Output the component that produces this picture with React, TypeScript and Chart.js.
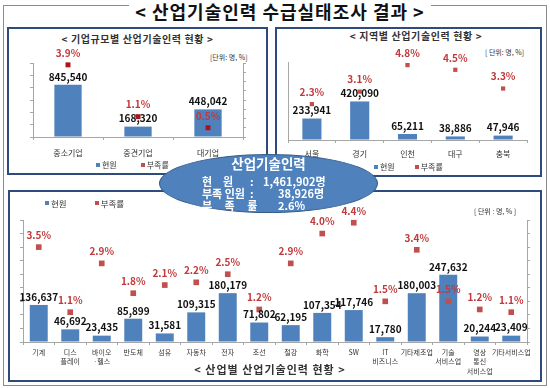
import React, { useEffect, useRef } from 'react';
import { Chart, registerables } from 'chart.js';

Chart.register(...registerables);

const FONT = "'Noto Sans CJK KR', 'Noto Sans', sans-serif";
Chart.defaults.font.family = FONT;

// ---- data ----
const sizeCats = ['중소기업', '중견기업', '대기업'];
const sizeStaff = [845540, 168320, 448042];
const sizeShort = [3.9, 1.1, 0.5];

const regionCats = ['서울', '경기', '인천', '대구', '충북'];
const regionStaff = [233941, 420090, 65211, 38886, 47946];
const regionShort = [2.3, 3.1, 4.8, 4.5, 3.3];

const industryCats = [
  ['기계'], ['디스', '플레이'], ['바이오', '·헬스'], ['반도체'], ['섬유'], ['자동차'], ['전자'], ['조선'],
  ['철강'], ['화학'], ['SW'], ['IT', '비즈니스'], ['기타제조업'], ['기술', '서비스업'], ['영상', '통신', '서비스업'], ['기타서비스업'],
];
const industryStaff = [136637, 46692, 23435, 85899, 31581, 109315, 180179, 71802, 62195, 107354, 117746, 17780, 180003, 247632, 20244, 23409];
const industryShort = [3.5, 1.1, 2.9, 1.8, 2.1, 2.2, 2.5, 1.2, 2.9, 4.0, 4.4, 1.5, 3.4, 1.5, 1.2, 1.1];

const totalStaff = '1,461,902명';
const totalShortage = '38,926명';
const totalRate = '2.6%';

const BLUE = '#4f81bd';
const RED = '#c0504d';
const DARKRED = '#b0121b';
const LABEL_RED = '#c0393b';
const AXIS = '#a6a6a6';

const valueLabels = {
  id: 'valueLabels',
  afterDatasetsDraw(chart: any) {
    const { ctx } = chart;
    chart.data.datasets.forEach((ds: any, i: number) => {
      const meta = chart.getDatasetMeta(i);
      const cfg = ds.valueLabel;
      if (!cfg) return;
      meta.data.forEach((el: any, j: number) => {
        const v = ds.data[j];
        const text = cfg.pct ? v.toFixed(1) + '%' : v.toLocaleString('en-US');
        ctx.save();
        ctx.font = `bold 10px ${FONT}`;
        ctx.fillStyle = cfg.color;
        ctx.textAlign = 'center';
        ctx.textBaseline = 'middle';
        ctx.fillText(text, el.x, el.y - cfg.offset);
        ctx.restore();
      });
    });
  },
};

type ComboProps = {
  left: number; top: number; width: number; height: number;
  labels: any[]; staff: number[]; short: number[];
  staffMax: number; shortMax: number; shortStep: number; staffStep: number;
  pad: { left: number; right: number; top: number; bottom: number };
  axisH: number; barPct: number; markerColor: string; markerR: number;
  tickFontSize: number; tickPadding: number; tickLineHeight: number;
  leftTicks: boolean; rightAxis: boolean;
};

function ComboChart(p: ComboProps) {
  const ref = useRef<HTMLCanvasElement>(null);
  useEffect(() => {
    const chart = new Chart(ref.current as HTMLCanvasElement, {
      type: 'bar',
      data: {
        labels: p.labels,
        datasets: [
          {
            type: 'line',
            data: p.short,
            yAxisID: 'y1',
            showLine: false,
            pointStyle: 'rect',
            pointRadius: p.markerR,
            pointBackgroundColor: p.markerColor,
            pointBorderWidth: 0,
            order: 1,
            clip: false,
            valueLabel: { pct: true, color: LABEL_RED, offset: 12 },
          } as any,
          {
            type: 'bar',
            data: p.staff,
            yAxisID: 'y',
            backgroundColor: BLUE,
            barPercentage: p.barPct,
            categoryPercentage: 1,
            order: 2,
            valueLabel: { pct: false, color: '#111', offset: 8 },
          } as any,
        ],
      },
      options: {
        animation: false,
        responsive: false,
        maintainAspectRatio: false,
        layout: { padding: p.pad },
        plugins: { legend: { display: false }, tooltip: { enabled: false } },
        scales: {
          x: {
            grid: { display: true, drawOnChartArea: false, drawTicks: true, tickLength: 3, color: AXIS, offset: true },
            border: { color: AXIS, width: 1 },
            ticks: {
              font: { size: p.tickFontSize, lineHeight: p.tickLineHeight },
              color: '#333',
              padding: p.tickPadding,
              autoSkip: false,
              maxRotation: 0,
            },
            afterFit: (s: any) => { s.height = p.axisH; },
          },
          y: {
            min: 0,
            max: p.staffMax,
            ticks: { display: false, stepSize: p.staffStep },
            grid: { drawOnChartArea: false, drawTicks: p.leftTicks, tickLength: 3, color: AXIS },
            border: { color: AXIS, width: 1 },
            afterFit: (s: any) => { s.width = p.leftTicks ? 3 : 0; },
          },
          y1: {
            display: p.rightAxis,
            position: 'right',
            min: 0,
            max: p.shortMax,
            ticks: { display: false, stepSize: p.shortStep },
            grid: { drawOnChartArea: false, drawTicks: true, tickLength: 3, color: AXIS },
            border: { color: AXIS, width: 1 },
            afterFit: (s: any) => { s.width = 3; },
          },
        },
      } as any,
      plugins: [valueLabels as any],
    });
    return () => chart.destroy();
  }, []);
  return (
    <canvas
      ref={ref}
      width={p.width}
      height={p.height}
      style={{ position: 'absolute', left: p.left, top: p.top, width: p.width, height: p.height }}
    />
  );
}

const txt = (extra: React.CSSProperties): React.CSSProperties => ({
  position: 'absolute',
  fontFamily: FONT,
  whiteSpace: 'nowrap',
  lineHeight: 1,
  ...extra,
});

function Legend({ x, y, gap, size }: { x: number; y: number; gap: number; size: number }) {
  const sq = (c: string): React.CSSProperties => ({
    display: 'inline-block', width: 4, height: 4, background: c, marginRight: 2, verticalAlign: 'middle', position: 'relative', top: -1,
  });
  return (
    <div style={txt({ left: x, top: y - size / 2 - 1, fontSize: size, color: '#333' })}>
      <span style={sq(BLUE)} />
      <span>현원</span>
      <span style={{ display: 'inline-block', width: gap }} />
      <span style={sq(RED)} />
      <span>부족률</span>
    </div>
  );
}

export default function App() {
  const panel = (l: number, t: number, w: number, h: number): React.CSSProperties => ({
    position: 'absolute', left: l, top: t, width: w, height: h, boxSizing: 'border-box',
    border: '2px solid #2f4b7c', background: '#fff',
  });
  const row = (left: number, top: number, extra: React.CSSProperties = {}) =>
    txt({ left, top, fontSize: 11, fontWeight: 'bold', color: '#fff', ...extra });
  return (
    <div style={{ position: 'absolute', left: 0, top: 0, width: 550, height: 388, background: '#fff', overflow: 'hidden', fontFamily: FONT }}>
      {/* outer frame */}
      <div style={{ position: 'absolute', left: 3, top: 5, width: 544, height: 381, boxSizing: 'border-box', border: '1px solid #8c8c8c' }} />
      {/* main title */}
      <div style={txt({ left: 0, width: 560, top: 2, textAlign: 'center', fontSize: 18, fontWeight: 'bold', color: '#111', letterSpacing: 1 })}>
        <span style={{ background: '#fff', padding: '0 6px' }}>&lt; 산업기술인력 수급실태조사 결과 &gt;</span>
      </div>

      {/* panels */}
      <div style={panel(7, 27, 261, 148)} />
      <div style={panel(275, 27, 267, 150)} />
      <div style={panel(8, 190, 534, 192)} />

      {/* top-left */}
      <div style={txt({ left: 7, width: 261, top: 34, textAlign: 'center', fontSize: 10, fontWeight: 'bold', color: '#333', letterSpacing: 0.6 })}>
        &lt; 기업규모별 산업기술인력 현황 &gt;
      </div>
      <div style={txt({ left: 210, top: 54, fontSize: 7, color: '#333' })}>[단위: 명, %]</div>
      <ComboChart
        left={10} top={29} width={255} height={146}
        labels={sizeCats} staff={sizeStaff} short={sizeShort}
        staffMax={1200000} staffStep={200000} shortMax={4} shortStep={0.5}
        pad={{ left: 20, right: 19, top: 34, bottom: 0 }} axisH={38}
        barPct={0.39} markerColor={DARKRED} markerR={3.5}
        tickFontSize={8} tickPadding={8} tickLineHeight={1.2}
        leftTicks={true} rightAxis={true}
      />
      <Legend x={96} y={166} gap={24} size={8} />

      {/* top-right */}
      <div style={txt({ left: 275, width: 282, top: 31, textAlign: 'center', fontSize: 10, fontWeight: 'bold', color: '#333', letterSpacing: 0.6 })}>
        &lt; 지역별 산업기술인력 현황 &gt;
      </div>
      <div style={txt({ left: 485, top: 49, fontSize: 7, color: '#333' })}>[ 단위: 명, %]</div>
      <ComboChart
        left={278} top={30} width={262} height={145}
        labels={regionCats} staff={regionStaff} short={regionShort}
        staffMax={850000} staffStep={100000} shortMax={5} shortStep={0.5}
        pad={{ left: 10, right: 10, top: 32, bottom: 0 }} axisH={35}
        barPct={0.4} markerColor={RED} markerR={3}
        tickFontSize={8} tickPadding={6} tickLineHeight={1.2}
        leftTicks={false} rightAxis={false}
      />
      <Legend x={374} y={168} gap={20} size={8} />

      {/* bottom */}
      <Legend x={45} y={204} gap={28} size={8.5} />
      <div style={txt({ left: 474, top: 208, fontSize: 7, color: '#333' })}>[ 단위 : 명, % ]</div>
      <ComboChart
        left={10} top={195} width={530} height={187}
        labels={industryCats} staff={industryStaff} short={industryShort}
        staffMax={450000} staffStep={50000} shortMax={4.5} shortStep={0.5}
        pad={{ left: 10, right: 10, top: 25, bottom: 0 }} axisH={40}
        barPct={0.57} markerColor={RED} markerR={4}
        tickFontSize={7} tickPadding={2} tickLineHeight={1.4}
        leftTicks={true} rightAxis={true}
      />
      <div style={txt({ left: 8, width: 524, top: 364, textAlign: 'center', fontSize: 11, fontWeight: 'bold', color: '#333', letterSpacing: 1 })}>
        &lt; 산업별 산업기술인력 현황 &gt;
      </div>

      {/* central ellipse */}
      <div style={{ position: 'absolute', left: 159, top: 154, width: 219, height: 59, boxSizing: 'border-box', borderRadius: '50%', background: BLUE, border: '1.5px solid #385d8a' }} />
      <div style={txt({ left: 159, width: 219, top: 157, textAlign: 'center', fontSize: 13.5, fontWeight: 'bold', color: '#fff' })}>산업기술인력</div>
      <div style={row(202, 175.5)}>현</div>
      <div style={row(223, 175.5)}>원</div>
      <div style={row(250, 175.5)}>:</div>
      <div style={row(263, 175.5)}>{totalStaff}</div>
      <div style={row(202, 187.5)}>부족 인원</div>
      <div style={row(250, 187.5)}>:</div>
      <div style={row(278, 187.5)}>{totalShortage}</div>
      <div style={row(202, 199.5, { letterSpacing: 5 })}>부 족 률</div>
      <div style={row(250, 199.5)}>:</div>
      <div style={row(278, 199.5)}>{totalRate}</div>
    </div>
  );
}
